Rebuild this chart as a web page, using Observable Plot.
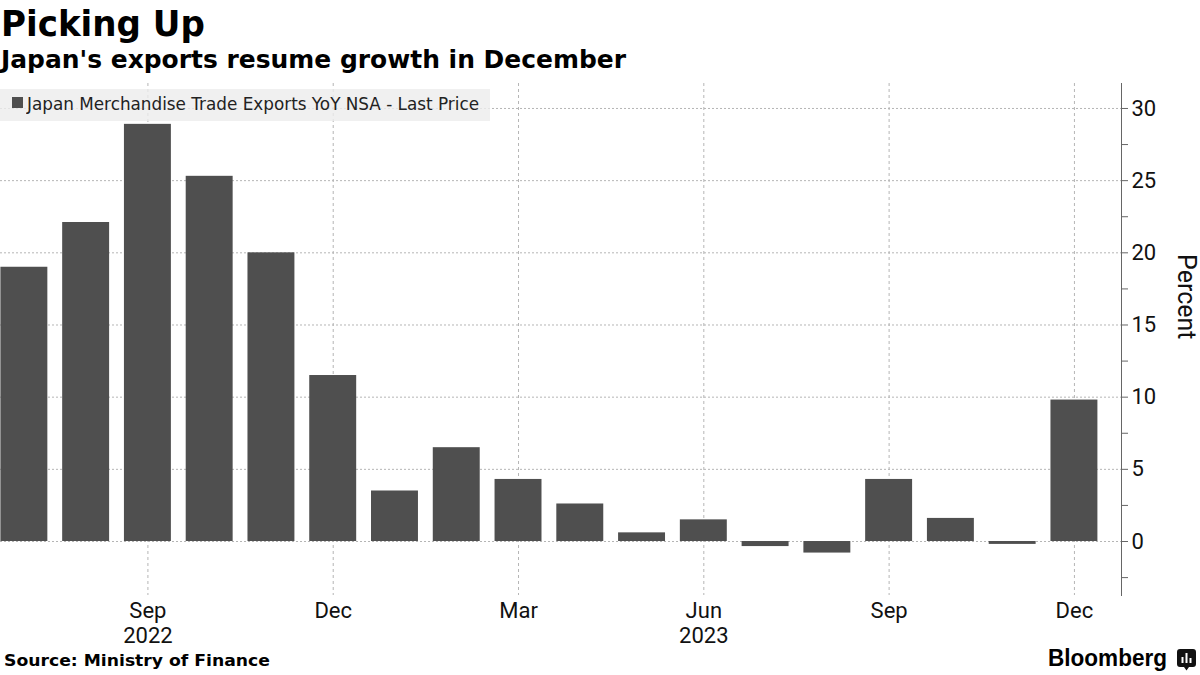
<!DOCTYPE html>
<html>
<head>
<meta charset="utf-8">
<script src="https://cdn.jsdelivr.net/npm/d3@7"></script>
<script src="https://cdn.jsdelivr.net/npm/@observablehq/plot@0.6"></script>
<style>
  html, body { margin: 0; padding: 0; background: #fff; }
  #wrap { position: relative; width: 1200px; height: 675px; overflow: hidden; font-family: "DejaVu Sans", sans-serif; }
  .t { position: absolute; white-space: nowrap; line-height: 1; transform-origin: 0 0; }
  #title { left: 1px; top: 7px; font-weight: bold; font-size: 35px; color: #000; }
  #subtitle { left: 1px; top: 48px; font-weight: bold; font-size: 24px; color: #000; }
  #chart { position: absolute; left: 0; top: 0; }
  #legendbox { position: absolute; left: 0; top: 89px; width: 490px; height: 32px; background: rgba(236,236,236,0.8); }
  #legendsw { position: absolute; left: 12px; top: 97px; width: 11px; height: 11px; background: #4f4f4f; }
  #legendtext { left: 27px; top: 95px; font-size: 18px; color: #222; }
  #source { left: 4px; top: 653px; font-weight: bold; font-size: 16.5px; color: #000; }
  #brand { left: 1048px; top: 647px; font-family: "Liberation Sans", Arial, sans-serif; font-weight: bold; font-size: 23px; color: #000; }
  #icon { position: absolute; left: 1177px; top: 649px; }
</style>
</head>
<body>
<div id="wrap">
  <div id="chart"></div>
  <div id="title" class="t">Picking Up</div>
  <div id="subtitle" class="t">Japan's exports resume growth in December</div>
  <div id="legendbox"></div>
  <div id="legendsw"></div>
  <div id="legendtext" class="t">Japan Merchandise Trade Exports YoY NSA - Last Price</div>
  <div id="source" class="t">Source: Ministry of Finance</div>
  <div id="brand" class="t">Bloomberg</div>
  <svg id="icon" width="19" height="22" viewBox="0 0 19 22">
    <path d="M3,0 H16 Q19,0 19,3 V15 Q19,18 16,18 H12 L9.5,21.5 L7,18 H3 Q0,18 0,15 V3 Q0,0 3,0 Z" fill="#111"/>
    <rect x="4.5" y="8" width="2" height="6" fill="#fff"/>
    <rect x="8.5" y="4" width="2" height="10" fill="#fff"/>
    <rect x="12.5" y="9" width="2" height="5" fill="#fff"/>
  </svg>
</div>
<script>
const months = ["Jul 2022","Aug 2022","Sep 2022","Oct 2022","Nov 2022","Dec 2022",
                "Jan 2023","Feb 2023","Mar 2023","Apr 2023","May 2023","Jun 2023",
                "Jul 2023","Aug 2023","Sep 2023","Oct 2023","Nov 2023","Dec 2023"];
const values = [19.0, 22.1, 28.9, 25.3, 20.0, 11.5,
                3.5, 6.5, 4.3, 2.6, 0.6, 1.5,
                -0.35, -0.8, 4.3, 1.6, -0.2, 9.8];
const tickMonths = ["Sep 2022","Dec 2022","Mar 2023","Jun 2023","Sep 2023","Dec 2023"];
const tickLabels = ["Sep","Dec","Mar","Jun","Sep","Dec"];
const yearMonths = ["Sep 2022","Jun 2023"];
const yearLabels = ["2022","2023"];
const yTicks = [0, 5, 10, 15, 20, 25, 30];
const yMinorTicks = [-2.5, 2.5, 7.5, 12.5, 17.5, 22.5, 27.5];
const yLabel = "Percent";

const data = months.map((m, i) => ({month: m, value: values[i]}));
const ticks = tickMonths.map((m, i) => ({month: m, label: tickLabels[i]}));
const years = yearMonths.map((m, i) => ({month: m, label: yearLabels[i]}));

const font = 'Roboto, "Liberation Sans", sans-serif';

const chart = Plot.plot({
  width: 1200,
  height: 640,
  marginLeft: 0,
  marginRight: 79,
  marginTop: 83,
  marginBottom: 45,
  style: {fontFamily: font, background: "transparent", overflow: "visible"},
  x: {type: "band", domain: months, range: [0.4, 1097.4], paddingInner: 0.24, paddingOuter: 0, round: false, axis: null},
  y: {domain: [-3.74, 31.73], axis: null},
  marks: [
    Plot.gridY(yTicks, {stroke: "#b5b5b5", strokeOpacity: 1, strokeDasharray: "2,2"}),
    Plot.ruleX(ticks, {x: "month", stroke: "#b5b5b5", strokeDasharray: "3,3"}),
    Plot.barY(data, {x: "month", y: "value", fill: "#4f4f4f"}),
    Plot.frame({anchor: "right", stroke: "#666"}),
    Plot.axisY({anchor: "right", ticks: yTicks, tickSize: 6, tickPadding: 4, fontSize: 22, stroke: "#666", color: "#111", label: null}),
    Plot.axisY({anchor: "right", ticks: yMinorTicks, tickSize: 6, tickFormat: () => "", stroke: "#666", label: null}),
    Plot.text(ticks, {x: "month", text: "label", frameAnchor: "bottom", dy: 15, fontSize: 22, fill: "#111", lineAnchor: "middle"}),
    Plot.text(years, {x: "month", text: "label", frameAnchor: "bottom", dy: 40, fontSize: 22, fill: "#111", lineAnchor: "middle"}),
    Plot.text([yLabel], {text: d => d, frameAnchor: "right", dx: 64, rotate: 90, fontSize: 25, fill: "#111"})
  ]
});
document.getElementById("chart").appendChild(chart);

function fitWidth(id, target) {
  const el = document.getElementById(id);
  const w = el.getBoundingClientRect().width;
  if (w > 0) el.style.transform = `scaleX(${target / w})`;
}
fitWidth("legendtext", 452);
fitWidth("source", 266);
fitWidth("title", 204);
fitWidth("subtitle", 625);
fitWidth("brand", 119);
</script>
</body>
</html>
